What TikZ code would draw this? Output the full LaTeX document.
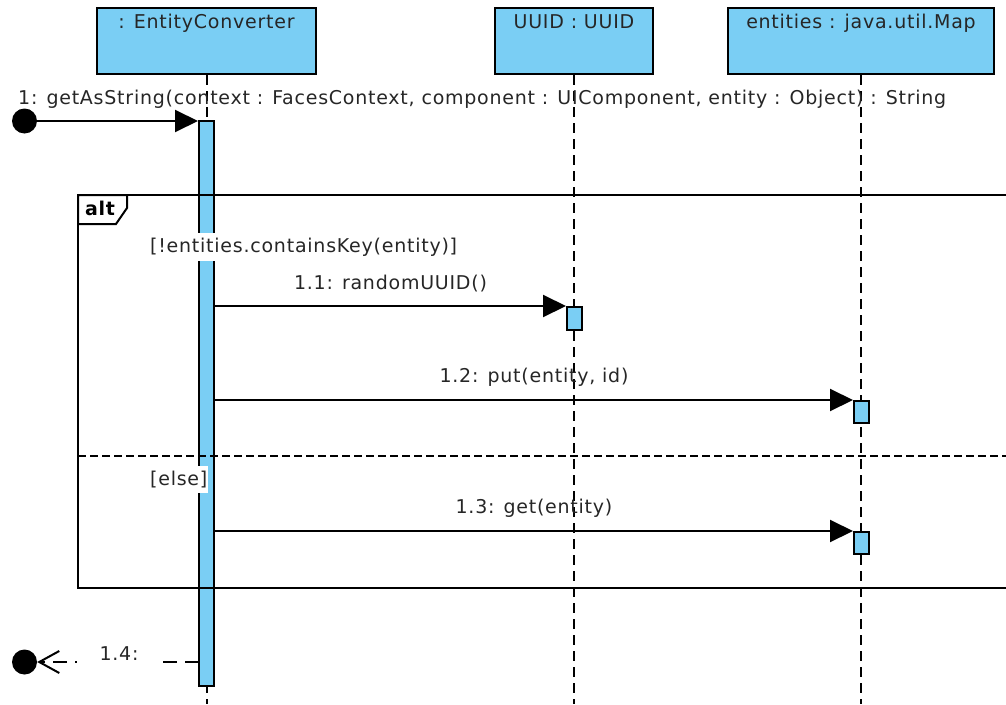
\documentclass[tikz,border=0pt]{standalone}
\usepackage{fontspec}
\setmainfont[LetterSpace=4]{DejaVu Sans}
\usetikzlibrary{arrows.meta, positioning}
\definecolor{lifeblue}{RGB}{122,206,244}
\tikzstyle{lifebox}  = [draw, line width=2.2pt, fill=lifeblue, minimum height=66pt, inner sep=0pt]
\tikzstyle{act}      = [draw, line width=2pt, fill=lifeblue, minimum width=15pt, inner sep=0pt]
\tikzstyle{lifeline} = [line width=2pt, dash pattern=on 10pt off 6pt]
\tikzstyle{msg}      = [line width=2pt, -{Triangle[length=23pt,width=22pt]}]
\tikzstyle{ret}      = [line width=2pt, dash pattern=on 14pt off 8pt, -{Straight Barb[length=20pt,width=22pt,line width=2pt]}]
\tikzstyle{txt}      = [font=\fontsize{19}{23}\selectfont, text=black!85, inner sep=0pt]
\tikzstyle{boldtxt}  = [font=\fontsize{19}{23}\selectfont\bfseries, inner sep=0pt]
\tikzstyle{endpoint} = [circle, fill=black, minimum size=25pt, inner sep=0pt]
\tikzstyle{frame}    = [line width=2pt]
\tikzstyle{guard}    = [txt, fill=white, inner xsep=1pt, inner ysep=5pt, anchor=base west]

\begin{document}
\begin{tikzpicture}[x=1pt, y=-1pt]
\useasboundingbox (0,0) rectangle (1006,704);

\node[lifebox, minimum width=219pt, label={[txt, anchor=base, yshift=-22pt]north:{: EntityConverter}}] (EC) at (206.5,41) {};
\node[lifebox, minimum width=158pt, label={[txt, anchor=base, yshift=-22pt]north:{UUID : UUID}}] (ID) at (574,41) {};
\node[lifebox, minimum width=266pt, label={[txt, anchor=base, yshift=-22pt]north:{entities : java.util.Map}}] (MAP) at (861,41) {};

\coordinate (ECbot)  at (206.5,704);
\coordinate (IDbot)  at (574,704);
\coordinate (MAPbot) at (861,704);

\draw[lifeline] (EC.south) -- (ECbot);
\draw[lifeline] (ID.south) -- (IDbot);
\draw[lifeline] (MAP.south) -- (MAPbot);

\node[act, minimum height=565pt] (A0) at (206.5,403.5) {};

\draw[frame] (78,195) rectangle (1014,588);
\draw[frame, fill=white] (78,195) -- (127,195) -- (127,208) -- (116,224) -- (78,224) -- cycle;
\node[boldtxt, anchor=base] (alt) at (100,215) {alt};
\draw[frame, dash pattern=on 8pt off 4pt] (78,456) -- (1014,456);

\node[guard] (G1) at (149,252) {[!entities.containsKey(entity)]};
\node[guard] (G2) at (149,485) {[else]};

\node[endpoint] (S) at (24.5,121) {};
\node[txt, anchor=base west] (M1) at (18,104) {1: getAsString(context : FacesContext, component : UIComponent, entity : Object) : String};
\draw[msg] (S) -- (S -| A0.west);

\node[act, minimum height=23pt] (A1) at (574.5,318.5) {};
\node[act, minimum height=22pt] (A2) at (861.5,412) {};
\node[act, minimum height=22pt] (A3) at (861.5,543) {};

\draw[msg] (A0.east |- A1.north) -- node[txt, above=13pt] (L1) {1.1: randomUUID()} (A1.north west);
\draw[msg] (A0.east |- A2.north) -- node[txt, above=13pt] (L2) {1.2: put(entity, id)} (A2.north west);
\draw[msg] (A0.east |- A3.north) -- node[txt, above=13pt] (L3) {1.3: get(entity)} (A3.north west);

\node[endpoint] (E) at (24.5,662) {};
\coordinate (R0) at (199,662);
\draw[ret] (R0) -- (E);
\node[txt, fill=white, minimum width=84pt, minimum height=24pt, anchor=base] (L4) at (119,660) {1.4:};

\end{tikzpicture}
\end{document}
